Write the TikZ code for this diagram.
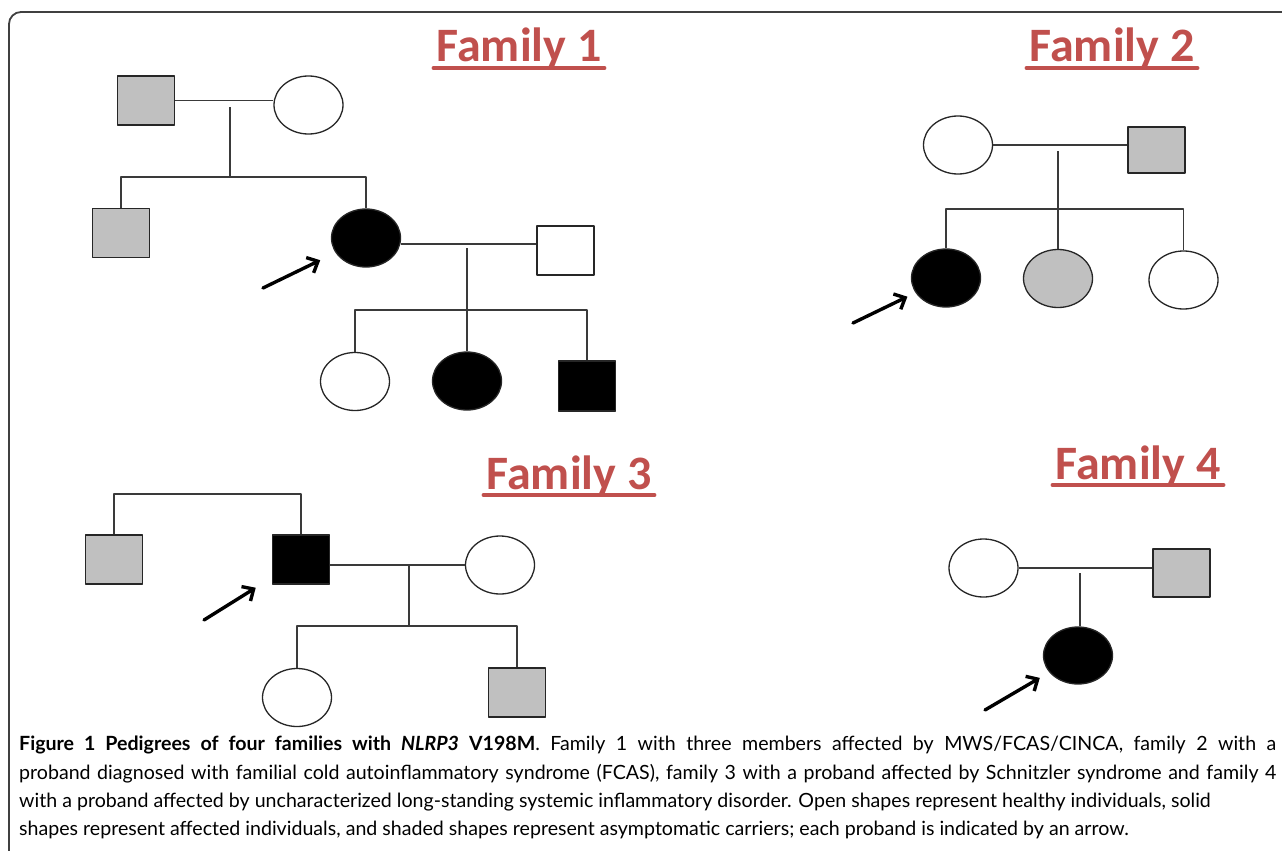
\documentclass[tikz,border=0pt]{standalone}
\usepackage{fontspec}
\setmainfont{Lato}
\newfontfamily\titlefont{Carlito}
\usetikzlibrary{shapes.geometric,arrows.meta}
\definecolor{famred}{HTML}{C0504D}
\definecolor{shade}{HTML}{C0C0C0}
\definecolor{linegray}{HTML}{3A3A3A}
\begin{document}
\begin{tikzpicture}[x=1pt, y=-1pt, line join=round, line cap=round,
  male/.style={draw=black!85, line width=1.3pt, minimum width=57pt, minimum height=49pt, inner sep=0pt},
  female/.style={ellipse, draw=black!85, line width=1.3pt, minimum width=69pt, minimum height=58pt, inner sep=0pt},
  open/.style={fill=white}, solid/.style={fill=black}, carrier/.style={fill=shade},
  rel/.style={draw=linegray, line width=1.2pt, line cap=butt},
  proband/.style={line width=3.4pt, -{Straight Barb[length=9pt,width=17pt,line width=3.4pt]}},
  famtitle/.style={font=\titlefont\bfseries\fontsize{48}{48}\selectfont, text=famred, inner sep=0pt, anchor=base}]
\useasboundingbox (0,0) rectangle (1282,851);
\draw[line width=1.8pt, black!75, rounded corners=12pt] (9,851) -- (9,12) -- (1282,12);
% titles
\node[famtitle] (t1) at (519,62) {Family 1};
\node[famtitle] (t2) at (1112,62) {Family 2};
\node[famtitle] (t3) at (569,489) {Family 3};
\node[famtitle] (t4) at (1138,479) {Family 4};
\foreach \t in {t1,t2,t3,t4}
  \draw[famred, line width=3.5pt] ([xshift=-3pt,yshift=-6pt]\t.base west) -- ([xshift=3pt,yshift=-6pt]\t.base east);
% family 1
\node[male, carrier] (f1gf) at (146,100.5) {};
\node[female, open] (f1gm) at (308.5,105) {};
\node[male, carrier] (f1son) at (121,233) {};
\node[female, solid] (f1p) at (366,238) {};
\node[male, open, minimum height=49pt] (f1h) at (565.5,250.5) {};
\node[female, open] (f1c1) at (355,381.5) {};
\node[female, solid] (f1c2) at (467,381) {};
\node[male, solid, minimum height=50pt] (f1c3) at (587,386) {};
\coordinate (f1d) at (230,107); \coordinate (f1s) at (230,177);
\coordinate (f1m) at (467,244); \coordinate (f1d2) at (467,248); \coordinate (f1s2) at (467,310);
\draw[rel] (f1gf.east) -- (f1gf.east -| f1gm.west);
\draw[rel] (f1d) -- (f1s);
\draw[rel] (f1son.north) |- (f1s) -| (f1p.north);
\draw[rel] (f1p.east |- f1m) -- (f1h.west |- f1m);
\draw[rel] (f1d2) -- (f1c2.north);
\draw[rel] (f1c1.north) |- (f1s2) -| (f1c3.north);
\coordinate (a1) at (263,288);
\draw[proband, shorten >=17pt] (a1) -- (f1p);
% family 2
\node[female, open] (f2mo) at (958,145) {};
\node[male, carrier, minimum height=46pt] (f2fa) at (1156.5,150) {};
\node[female, solid] (f2p) at (946,278) {};
\node[female, carrier] (f2c2) at (1058,278.5) {};
\node[female, open] (f2c3) at (1183.5,280) {};
\coordinate (f2d) at (1058,151); \coordinate (f2s) at (1058,209);
\draw[rel] (f2mo.east) -- (f2mo.east -| f2fa.west);
\draw[rel] (f2d) -- (f2c2.north);
\draw[rel] (f2p.north) |- (f2s) -| (f2c3.north);
\coordinate (a2) at (853,323);
\draw[proband, shorten >=9pt] (a2) -- (f2p);
% family 3
\node[male, carrier] (f3un) at (114,559.5) {};
\node[male, solid] (f3p) at (301,559.5) {};
\node[female, open] (f3w) at (500,565) {};
\node[female, open] (f3c1) at (297,697.5) {};
\node[male, carrier] (f3c2) at (517,692.5) {};
\coordinate (f3b) at (210,494);
\coordinate (f3m) at (409,565); \coordinate (f3s) at (409,626);
\draw[rel] (f3un.north) |- (f3b) -| (f3p.north);
\draw[rel] (f3p.east |- f3m) -- (f3w.west);
\draw[rel] (f3m) -- (f3s);
\draw[rel] (f3c1.north) |- (f3s) -| (f3c2.north);
\coordinate (a3) at (204,620);
\draw[proband, shorten >=19pt] (a3) -- (f3p);
% family 4
\node[female, open] (f4mo) at (983.5,568) {};
\node[male, carrier, minimum height=48pt] (f4fa) at (1181.5,573) {};
\node[female, solid, minimum height=57pt] (f4p) at (1078,655.5) {};
\coordinate (f4d) at (1080,573);
\draw[rel] (f4mo.east) -- (f4mo.east -| f4fa.west);
\draw[rel] (f4d) -- (f4d |- f4p.north);
\coordinate (a4) at (985,710);
\draw[proband, shorten >=11pt] (a4) -- (f4p);
% caption
\node[anchor=north west, inner sep=0pt, align=left, font=\fontsize{19.6}{28.3}\selectfont] (cap) at (19,736)
 {\makebox[1257pt][s]{\textbf{Figure 1 Pedigrees of four families with \textit{NLRP3} V198M}. Family 1 with three members affected by MWS/FCAS/CINCA, family 2 with a}\\
  \makebox[1257pt][s]{proband diagnosed with familial cold autoinflammatory syndrome (FCAS), family 3 with a proband affected by Schnitzler syndrome and family 4}\\
  with a proband affected by uncharacterized long-standing systemic inflammatory disorder. Open shapes represent healthy individuals, solid\\
  shapes represent affected individuals, and shaded shapes represent asymptomatic carriers; each proband is indicated by an arrow.};
\end{tikzpicture}
\end{document}
